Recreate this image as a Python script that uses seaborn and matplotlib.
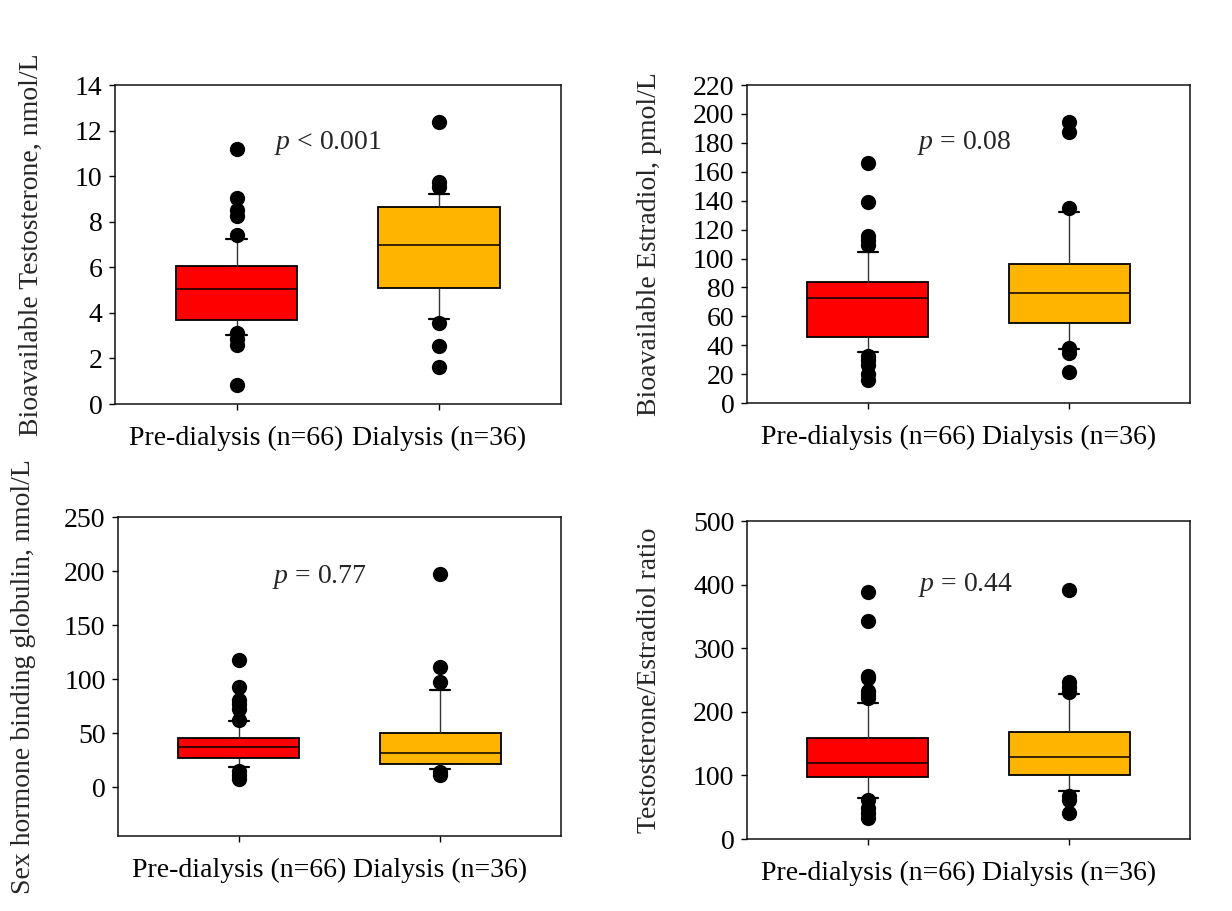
import numpy as np
import pandas as pd
import matplotlib
matplotlib.use("Agg")
import matplotlib.pyplot as plt
import seaborn as sns

# ---------------- data ----------------
groups = ["Pre-dialysis (n=66)", "Dialysis (n=36)"]
box_colors = ["#FF0000", "#FFB400"]

# box stats per group: [lower whisker (10th pct), Q1, median, Q3, upper whisker (90th pct)]
testo_pre_box = [3.04, 3.67, 5.04, 6.07, 7.24]
testo_dia_box = [3.73, 5.09, 6.99, 8.67, 9.22]
testo_pre_out = [11.18, 9.03, 8.52, 8.26, 7.40, 3.11, 2.85, 2.59, 0.85]
testo_dia_out = [12.40, 9.77, 9.55, 3.55, 2.56, 1.61]

estra_pre_box = [35.0, 45.4, 72.6, 83.9, 104.8]
estra_dia_box = [37.3, 55.3, 76.0, 96.1, 132.5]
estra_pre_out = [166.3, 138.9, 115.9, 112.9, 109.4, 32.7, 29.9, 26.5, 20.3, 16.1]
estra_dia_out = [194.7, 187.3, 134.8, 38.0, 34.6, 21.2]

shbg_pre_box = [19.1, 26.9, 37.7, 46.0, 61.7]
shbg_dia_box = [16.7, 21.3, 31.5, 50.0, 90.1]
shbg_pre_out = [117.9, 92.6, 80.9, 77.2, 72.2, 62.3, 15.4, 11.4, 7.4]
shbg_dia_out = [197.2, 111.7, 97.2, 14.5, 11.4]

ratio_pre_box = [64.3, 96.8, 119.2, 159.5, 214.4]
ratio_dia_box = [75.8, 100.9, 129.7, 168.9, 227.5]
ratio_pre_out = [388.6, 342.6, 256.3, 252.6, 233.3, 226.5, 221.2, 61.7, 48.6, 40.8, 33.0]
ratio_dia_out = [391.2, 247.4, 239.5, 231.7, 66.9, 61.7, 40.8]

y_labels = ["Bioavailable Testosterone, nmol/L",
            "Bioavailable Estradiol, pmol/L",
            "Sex hormone binding globulin, nmol/L",
            "Testosterone/Estradiol ratio"]
p_texts = [r"$p$ < 0.001", r"$p$ = 0.08", r"$p$ = 0.77", r"$p$ = 0.44"]
p_pos = [(0.45, 11.45), (0.48, 180), (0.40, 195), (0.485, 400)]
y_limits = [(0, 14), (0, 220), (-45, 250), (0, 500)]
y_ticks = [np.arange(0, 15, 2), np.arange(0, 221, 20), np.arange(0, 251, 50), np.arange(0, 501, 100)]

panels = [
    (testo_pre_box, testo_dia_box, testo_pre_out, testo_dia_out),
    (estra_pre_box, estra_dia_box, estra_pre_out, estra_dia_out),
    (shbg_pre_box, shbg_dia_box, shbg_pre_out, shbg_dia_out),
    (ratio_pre_box, ratio_dia_box, ratio_pre_out, ratio_dia_out),
]

# ---------------- style ----------------
sns.set_style("ticks")
plt.rcParams["font.family"] = ["Liberation Serif", "DejaVu Serif"]
plt.rcParams["mathtext.fontset"] = "custom"
plt.rcParams["mathtext.it"] = "Liberation Serif:italic"
plt.rcParams["mathtext.rm"] = "Liberation Serif"

fig = plt.figure(figsize=(12.32, 9.11), dpi=100)
axes_rects = [
    [0.0933, 0.5565, 0.3620, 0.3500],
    [0.6063, 0.5576, 0.3596, 0.3490],
    [0.0958, 0.0823, 0.3596, 0.3500],
    [0.6063, 0.0790, 0.3596, 0.3490],
]
label_x = [-0.16, -0.192, -0.185, -0.192]
FS = 20

for i, (pre_box, dia_box, pre_out, dia_out) in enumerate(panels):
    ax = fig.add_axes(axes_rects[i])
    box_df = pd.DataFrame({
        "group": [groups[0]] * len(pre_box) + [groups[1]] * len(dia_box),
        "value": pre_box + dia_box,
    })
    out_df = pd.DataFrame({
        "group": [groups[0]] * len(pre_out) + [groups[1]] * len(dia_out),
        "value": pre_out + dia_out,
    })
    sns.boxplot(data=box_df, x="group", y="value", hue="group", order=groups,
                hue_order=groups, palette=box_colors, saturation=1, legend=False,
                width=0.6, whis=(0, 100), showfliers=False, linecolor="black",
                linewidth=1.0, capwidths=0.1,
                boxprops=dict(linewidth=1.3, edgecolor="black"),
                whiskerprops=dict(color="#333333", linewidth=1.0),
                capprops=dict(color="black", linewidth=1.6),
                medianprops=dict(color="black", linewidth=1.1),
                ax=ax)
    sns.stripplot(data=out_df, x="group", y="value", order=groups, jitter=False,
                  color="black", size=11, linewidth=0, zorder=4, ax=ax)
    ax.set_xlim(-0.6, 1.6)
    ax.set_ylim(*y_limits[i])
    ax.set_yticks(y_ticks[i])
    ax.set_xlabel("")
    ax.set_ylabel(y_labels[i], fontsize=FS)
    ax.yaxis.set_label_coords(label_x[i], 0.5)
    ax.tick_params(axis="both", direction="out", length=4, width=1, labelsize=FS,
                   colors="black")
    ax.tick_params(axis="x", pad=12)
    ax.tick_params(axis="y", pad=5)
    for s in ax.spines.values():
        s.set_visible(True)
        s.set_linewidth(1.1)
        s.set_color("#111111")
    ax.text(p_pos[i][0], p_pos[i][1], p_texts[i], fontsize=FS, ha="center", va="center")

fig.savefig("out.png", dpi=100, facecolor="white")
